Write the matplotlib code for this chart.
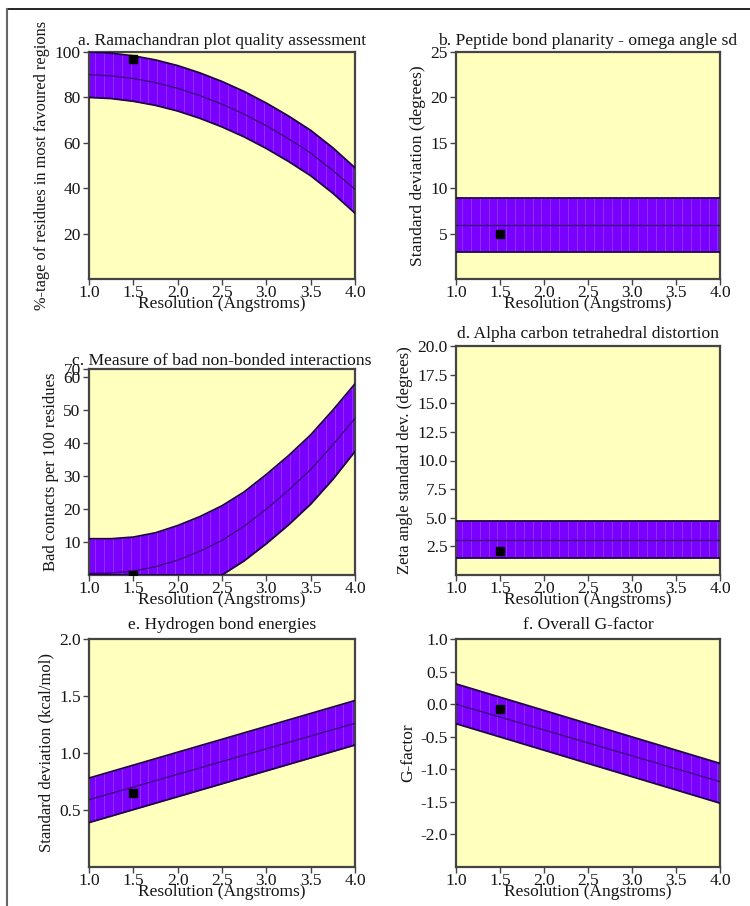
import numpy as np
import matplotlib
matplotlib.use("Agg")
import matplotlib.pyplot as plt
from matplotlib.lines import Line2D

plt.rcParams['font.family'] = ['Liberation Serif', 'DejaVu Serif']
plt.rcParams['axes.unicode_minus'] = False

# Resolution grid (Angstroms)
res_curve = [1.0, 1.25, 1.5, 1.75, 2.0, 2.25, 2.5, 2.75, 3.0, 3.25, 3.5, 3.75, 4.0]
res_line = [1.0, 4.0]

# a. Ramachandran: % residues in most favoured regions
rama_mid = [90.0, 89.5, 88.3, 86.5, 84.0, 80.8, 77.0, 72.6, 67.5, 61.8, 55.5, 47.8, 39.5]
rama_hi = [100.0, 99.5, 98.3, 96.5, 94.0, 90.8, 87.0, 82.6, 77.5, 71.8, 65.5, 57.8, 49.0]
rama_lo = [80.0, 79.5, 78.3, 76.5, 74.0, 70.8, 67.0, 62.6, 57.5, 51.8, 45.5, 37.8, 29.0]

# b. omega angle sd
omega_mid = [5.95, 5.95]
omega_hi = [8.9, 8.9]
omega_lo = [3.0, 3.0]

# c. bad contacts per 100 residues
bad_mid = [0.5, 0.6, 1.2, 2.5, 4.5, 7.2, 10.5, 14.8, 20.0, 25.7, 32.0, 39.5, 47.5]
bad_hi = [11.0, 11.0, 11.5, 12.8, 15.0, 17.7, 21.0, 25.2, 30.5, 36.2, 42.5, 50.0, 58.0]
bad_lo = [0.0, 0.0, 0.0, 0.0, 0.0, 0.0, 0.0, 4.3, 9.5, 15.2, 21.5, 29.0, 37.5]

# d. zeta angle sd
zeta_mid = [3.08, 3.08]
zeta_hi = [4.7, 4.7]
zeta_lo = [1.52, 1.52]

# e. H-bond energy sd
hb_mid = [0.59, 1.26]
hb_hi = [0.78, 1.46]
hb_lo = [0.39, 1.07]

# f. overall G-factor
g_mid = [0.0, -1.19]
g_hi = [0.31, -0.91]
g_lo = [-0.30, -1.52]

# the structure's own values (at 1.5 A)
this_res = 1.5
this_vals = [97.0, 5.0, 0.0, 2.1, 0.65, -0.07]

panels = [
    ("a. Ramachandran plot quality assessment", "%-tage of residues in most favoured regions",
     res_curve, rama_lo, rama_mid, rama_hi, (0, 100), [20, 40, 60, 80, 100], None),
    ("b. Peptide bond planarity - omega angle sd", "Standard deviation (degrees)",
     res_line, omega_lo, omega_mid, omega_hi, (0, 25), [5, 10, 15, 20, 25], None),
    ("c. Measure of bad non-bonded interactions", "Bad contacts per 100 residues",
     res_curve, bad_lo, bad_mid, bad_hi, (0, 62.5), [10, 20, 30, 40, 50, 60, 62.5],
     ["10", "20", "30", "40", "50", "60", "70"]),
    ("d. Alpha carbon tetrahedral distortion", "Zeta angle standard dev. (degrees)",
     res_line, zeta_lo, zeta_mid, zeta_hi, (0, 20), [2.5, 5, 7.5, 10, 12.5, 15, 17.5, 20],
     ["2.5", "5.0", "7.5", "10.0", "12.5", "15.0", "17.5", "20.0"]),
    ("e. Hydrogen bond energies", "Standard deviation (kcal/mol)",
     res_line, hb_lo, hb_mid, hb_hi, (0, 2.0), [0.5, 1.0, 1.5, 2.0], None),
    ("f. Overall G-factor", "G-factor",
     res_line, g_lo, g_mid, g_hi, (-2.5, 1.0), [-2.0, -1.5, -1.0, -0.5, 0.0, 0.5, 1.0], None),
]

# axes boxes in pixels: left, top, right, bottom
boxes = [(89, 52, 355, 279), (456, 52, 720, 279),
         (89, 369, 355, 575), (456, 346, 720, 575),
         (89, 639, 355, 867), (456, 639, 720, 867)]
title_pads = [5, 5, 0, 6, 7, 7]
ylabel_sizes = [11.8, 12.5, 12, 12, 12, 12.5]

W, H = 750, 906
fig = plt.figure(figsize=(W / 100, H / 100), dpi=100)

band_col = "#7a00ff"
edge_col = "#20004a"
bg_col = "#ffffbe"
txt_col = "#151515"

for (title, ylab, xs, lo, mid, hi, ylim, yt, ytl), (l, t, r, b), tp, ys, val in zip(
        panels, boxes, title_pads, ylabel_sizes, this_vals):
    ax = fig.add_axes([l / W, 1 - b / H, (r - l) / W, (b - t) / H])
    ax.set_facecolor(bg_col)
    band = ax.fill_between(xs, lo, hi, color=band_col, lw=0, zorder=2)
    # faint vertical striping inside the band
    stripes = ax.vlines(np.arange(1.07, 4.0, 0.1), ylim[0], ylim[1],
                        colors="#b07cff", lw=0.5, alpha=0.55, zorder=3)
    stripes.set_clip_path(band.get_paths()[0], ax.transData)
    ax.plot(xs, hi, color=edge_col, lw=1.3, zorder=4)
    ax.plot(xs, lo, color=edge_col, lw=1.3, zorder=4)
    ax.plot(xs, mid, color="#3a0070", lw=0.9, zorder=4)
    ax.plot([this_res], [val], marker="s", color="black", ms=5.5, zorder=5)

    ax.set_xlim(1.0, 4.0)
    ax.set_ylim(*ylim)
    ax.set_xticks([1.0, 1.5, 2.0, 2.5, 3.0, 3.5, 4.0])
    ax.set_yticks(yt)
    if ytl is not None:
        ax.set_yticklabels(ytl)
    ax.tick_params(labelsize=12.5, length=4, width=1, color="#444444", colors=txt_col)
    ax.tick_params(axis="x", pad=0)
    ax.tick_params(axis="y", pad=2)
    for s in ax.spines.values():
        s.set_color("#444444")
        s.set_linewidth(1.6)
    ax.set_title(title, fontsize=12.6, pad=tp, color=txt_col)
    ax.set_xlabel("Resolution (Angstroms)", fontsize=12.5, labelpad=-3, color=txt_col)
    ax.set_ylabel(ylab, fontsize=ys, labelpad=3, color=txt_col)

# page frame (top and left edges visible)
fig.add_artist(Line2D([7 / W, 1], [1 - 9 / H, 1 - 9 / H], color="black", lw=1.2,
                      transform=fig.transFigure))
fig.add_artist(Line2D([7 / W, 7 / W], [0, 1 - 9 / H], color="#666666", lw=1.5,
                      transform=fig.transFigure))

fig.savefig("out.png", dpi=100, facecolor="white")
